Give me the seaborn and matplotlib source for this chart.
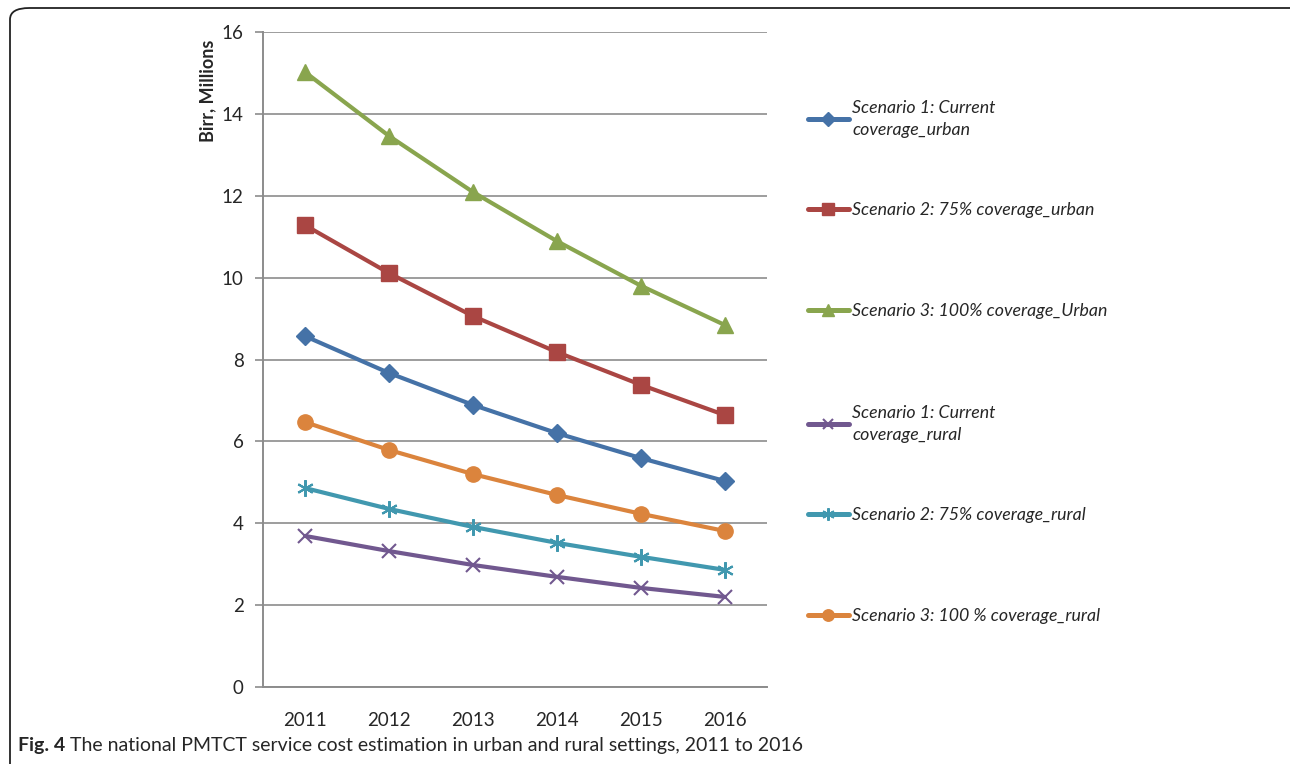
import matplotlib
matplotlib.use("Agg")
import matplotlib.pyplot as plt
import seaborn as sns
import numpy as np
from matplotlib.patches import FancyBboxPatch

years = ["2011", "2012", "2013", "2014", "2015", "2016"]

s1_urban = [8.57, 7.67, 6.89, 6.20, 5.59, 5.03]
s2_urban = [11.28, 10.11, 9.06, 8.18, 7.38, 6.64]
s3_urban = [15.02, 13.46, 12.09, 10.89, 9.80, 8.84]
s1_rural = [3.69, 3.32, 2.98, 2.69, 2.42, 2.20]
s2_rural = [4.86, 4.35, 3.91, 3.52, 3.18, 2.86]
s3_rural = [6.47, 5.79, 5.20, 4.69, 4.23, 3.81]

labels = [
    "Scenario 1: Current\ncoverage_urban",
    "Scenario 2: 75% coverage_urban",
    "Scenario 3: 100% coverage_Urban",
    "Scenario 1: Current\ncoverage_rural",
    "Scenario 2: 75% coverage_rural",
    "Scenario 3: 100 % coverage_rural",
]
series = [s1_urban, s2_urban, s3_urban, s1_rural, s2_rural, s3_rural]

colors = ["#4572A7", "#AA4643", "#89A54E", "#71588F", "#4198AF", "#DB843D"]
markers = ["D", "s", "^", "x", (6, 2, 0), "o"]
msizes = [9, 11, 12, 10, 12, 11]
mews = [1, 1, 1, 1.5, 1.5, 1]

sns.set_style("white")
plt.rcParams["font.family"] = ["Lato", "DejaVu Sans"]

fig = plt.figure(figsize=(12.9, 7.64), dpi=100)
ax = fig.add_axes([0.2039, 0.1008, 0.3907, 0.8573])

xpos = np.arange(len(years))
for vals, lab, c, m, ms, mew in zip(series, labels, colors, markers, msizes, mews):
    sns.lineplot(x=xpos, y=vals, ax=ax, color=c, marker=m, markersize=ms,
                 markeredgecolor=c, markerfacecolor=c, markeredgewidth=mew,
                 linewidth=3.0, label=lab, legend=False)
lines = ax.get_lines()

ax.set_xlim(-0.5, 5.5)
ax.set_ylim(0, 16)
ax.set_yticks(np.arange(0, 17, 2))
ax.set_yticklabels([str(v) for v in range(0, 17, 2)], fontsize=13.5)
ax.yaxis.grid(True, color="#8c8c8c", linewidth=1.2)
ax.xaxis.grid(False)
ax.set_xticks(xpos)
ax.set_xticklabels(years, fontsize=13.5)
ax.set_xticks(np.arange(-0.5, 6, 1), minor=True)
ax.tick_params(axis="x", which="major", length=0, pad=18)
ax.tick_params(axis="x", which="minor", length=6, color="#8c8c8c", width=1.2, direction="out")
ax.tick_params(axis="y", length=6, color="#8c8c8c", width=1.2, direction="out", pad=8, left=True)
for sp in ["top", "right"]:
    ax.spines[sp].set_visible(False)
for sp in ["left", "bottom"]:
    ax.spines[sp].set_color("#8c8c8c")
    ax.spines[sp].set_linewidth(1.4)
ax.set_ylabel("")
ax.set_xlabel("")
fig.text(208 / 1290, 1 - 91 / 764, "Birr, Millions", rotation=90, fontsize=13,
         fontweight="bold", ha="center", va="center")

# legends (one per entry, to reproduce the Excel spacing)
centers_px = [119, 210, 311, 424, 515, 616]
for ln, lab, cy in zip(lines, labels, centers_px):
    leg = fig.legend([ln], [lab], loc="center left",
                     bbox_to_anchor=(808 / 1290, 1 - cy / 764), frameon=False,
                     borderpad=0, borderaxespad=0, handlelength=2.3, handletextpad=0.2,
                     markerscale=0.75, prop={"style": "italic", "size": 12.8})
    for t in leg.get_texts():
        t.set_linespacing(1.45)
    for h in leg.legend_handles:
        h.set_linewidth(3.6)

# rounded border
border = FancyBboxPatch((10 / 1290, -20 / 764), 1300 / 1290, 776 / 764,
                        boxstyle="round,pad=0,rounding_size=0.015",
                        transform=fig.transFigure, fill=False,
                        edgecolor="#222222", linewidth=1.3, clip_on=False)
fig.patches.append(border)

# caption
t1 = fig.text(18 / 1290, 1 - 745 / 764, "Fig. 4", fontsize=14, fontweight="bold",
              va="center", ha="left")
fig.canvas.draw()
bb = t1.get_window_extent()
fig.text((bb.x1 + 5) / 1290, 1 - 745 / 764,
         "The national PMTCT service cost estimation in urban and rural settings, 2011 to 2016",
         fontsize=14, va="center", ha="left")

fig.savefig("out.png", dpi=100)
